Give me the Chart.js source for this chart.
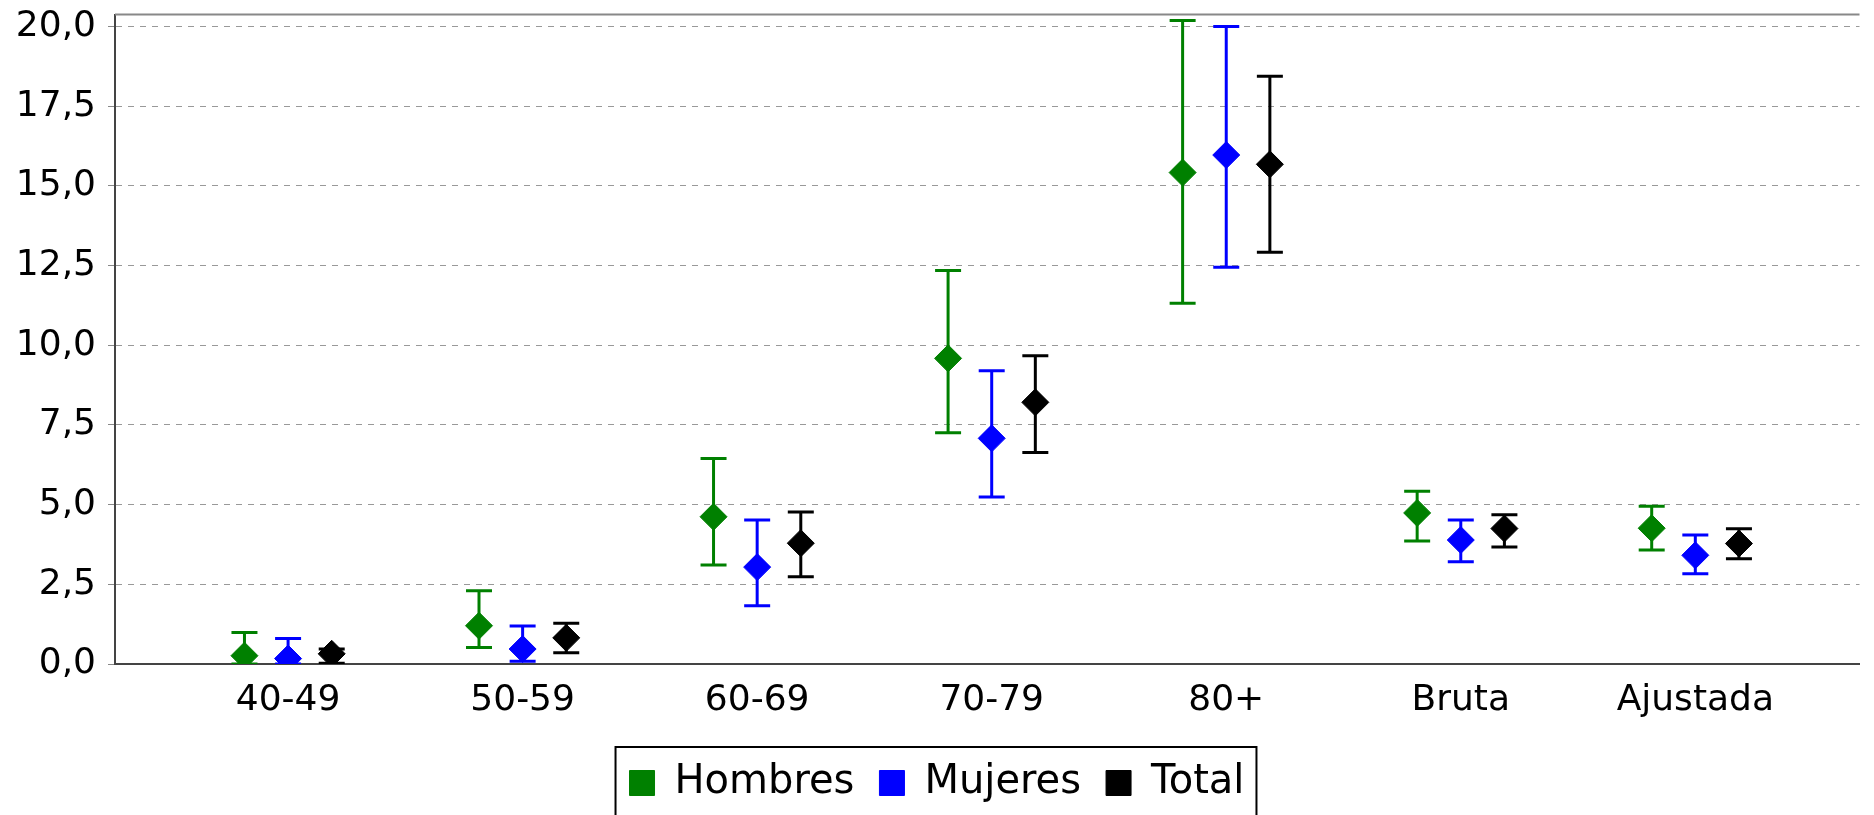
<!DOCTYPE html>
<html>
<head>
<meta charset="utf-8">
<script src="https://cdn.jsdelivr.net/npm/chart.js@4.4.1/dist/chart.umd.min.js"></script>
<style>
html, body { margin: 0; padding: 0; background: #fff; }
</style>
</head>
<body>
<canvas id="chart" width="1874" height="815"></canvas>
<script>
// categories and tick labels
var categories = ['40-49', '50-59', '60-69', '70-79', '80+', 'Bruta', 'Ajustada'];
var yTicks = [0, 2.5, 5, 7.5, 10, 12.5, 15, 17.5, 20];

// estimates + confidence limits
var hombres     = [0.26, 1.20, 4.62, 9.59, 15.42, 4.74, 4.26];
var hombresLow  = [0.00, 0.52, 3.11, 7.26, 11.32, 3.86, 3.58];
var hombresHigh = [0.99, 2.30, 6.45, 12.35, 20.19, 5.42, 4.95];

var mujeres     = [0.17, 0.47, 3.04, 7.08, 15.97, 3.89, 3.41];
var mujeresLow  = [0.00, 0.09, 1.83, 5.24, 12.45, 3.21, 2.83];
var mujeresHigh = [0.80, 1.19, 4.52, 9.20, 20.00, 4.52, 4.05];

var total     = [0.32, 0.82, 3.79, 8.21, 15.68, 4.25, 3.78];
var totalLow  = [0.02, 0.35, 2.74, 6.64, 12.92, 3.67, 3.30];
var totalHigh = [0.47, 1.28, 4.77, 9.67, 18.44, 4.68, 4.24];

var seriesShift = 0.186;
var fontName = "'DejaVu Sans', Verdana, sans-serif";

function toPoints(values, shift) {
    return values.map(function (v, i) {
        return { x: i + shift, y: v };
    });
}

function makeSet(label, color, values, low, high, shift) {
    return {
        label: label,
        data: toPoints(values, shift),
        errLow: low,
        errHigh: high,
        backgroundColor: color,
        borderColor: color,
        pointStyle: 'rectRot',
        pointRadius: 13.5,
        pointBorderWidth: 1,
        pointHoverRadius: 13.5
    };
}

// whiskers under the diamonds
var errorBars = {
    id: 'errorBars',
    beforeDatasetsDraw: function (chart) {
        var ctx = chart.ctx;
        var area = chart.chartArea;
        var xs = chart.scales.x;
        var ys = chart.scales.y;
        ctx.save();
        ctx.beginPath();
        ctx.rect(area.left, area.top, area.right - area.left, area.bottom - area.top);
        ctx.clip();
        chart.data.datasets.forEach(function (ds) {
            ctx.strokeStyle = ds.borderColor;
            ctx.lineWidth = 3;
            ds.data.forEach(function (p, i) {
                var x = xs.getPixelForValue(p.x);
                var yl = ys.getPixelForValue(ds.errLow[i]);
                var yh = ys.getPixelForValue(ds.errHigh[i]);
                ctx.beginPath();
                ctx.moveTo(x, yl);
                ctx.lineTo(x, yh);
                ctx.moveTo(x - 13, yl);
                ctx.lineTo(x + 13, yl);
                ctx.moveTo(x - 13, yh);
                ctx.lineTo(x + 13, yh);
                ctx.stroke();
            });
        });
        ctx.restore();
    }
};

// plot outline on top + box round the legend
var frame = {
    id: 'frame',
    afterDraw: function (chart) {
        var ctx = chart.ctx;
        var area = chart.chartArea;
        ctx.save();
        ctx.strokeStyle = '#888';
        ctx.lineWidth = 2;
        ctx.beginPath();
        ctx.moveTo(area.left, area.top);
        ctx.lineTo(area.right, area.top);
        ctx.stroke();

        var boxes = chart.legend.legendHitBoxes;
        if (boxes && boxes.length) {
            var last = boxes[boxes.length - 1];
            var left = boxes[0].left - 14;
            var right = last.left + last.width + 12;
            var top = boxes[0].top - 16;
            ctx.strokeStyle = '#000';
            ctx.lineWidth = 2;
            ctx.strokeRect(left, top, right - left, 120);
        }
        ctx.restore();
    }
};

var ctx = document.getElementById('chart').getContext('2d');
var chart = new Chart(ctx, {
    type: 'scatter',
    data: {
        datasets: [
            makeSet('Hombres', '#008000', hombres, hombresLow, hombresHigh, -seriesShift),
            makeSet('Mujeres', '#0000ff', mujeres, mujeresLow, mujeresHigh, 0),
            makeSet('Total', '#000000', total, totalLow, totalHigh, seriesShift)
        ]
    },
    options: {
        responsive: false,
        animation: false,
        layout: { padding: { top: 11, left: 0, right: 0, bottom: 2 } },
        plugins: {
            legend: {
                position: 'bottom',
                labels: {
                    boxWidth: 25,
                    boxHeight: 25,
                    padding: 25,
                    color: '#000',
                    font: { family: fontName, size: 40 }
                }
            },
            tooltip: { enabled: false }
        },
        scales: {
            x: {
                type: 'linear',
                min: -0.738,
                max: 6.70,
                afterBuildTicks: function (scale) {
                    scale.ticks = categories.map(function (c, i) { return { value: i }; });
                },
                afterFit: function (scale) {
                    scale.height = 74;
                    scale.paddingLeft = 0;
                    scale.paddingRight = 0;
                },
                grid: { display: false, drawTicks: false },
                border: { display: true, color: '#444', width: 2 },
                ticks: {
                    autoSkip: false,
                    maxRotation: 0,
                    padding: 15,
                    color: '#000',
                    font: { family: fontName, size: 36 },
                    callback: function (v) { return categories[Math.round(v)]; }
                }
            },
            y: {
                min: 0,
                max: 20.38,
                afterBuildTicks: function (scale) {
                    scale.ticks = yTicks.map(function (v) { return { value: v }; });
                },
                afterFit: function (scale) {
                    scale.width = 115;
                    scale.paddingTop = 0;
                    scale.paddingBottom = 0;
                },
                grid: { color: '#999', lineWidth: 1, tickColor: '#888', tickLength: 7, drawTicks: true },
                border: { display: true, color: '#444', width: 2, dash: [6, 6] },
                ticks: {
                    padding: 12,
                    color: '#000',
                    font: { family: fontName, size: 36 },
                    callback: function (v) { return v.toFixed(1).replace('.', ','); }
                }
            }
        }
    },
    plugins: [errorBars, frame]
});
</script>
</body>
</html>
